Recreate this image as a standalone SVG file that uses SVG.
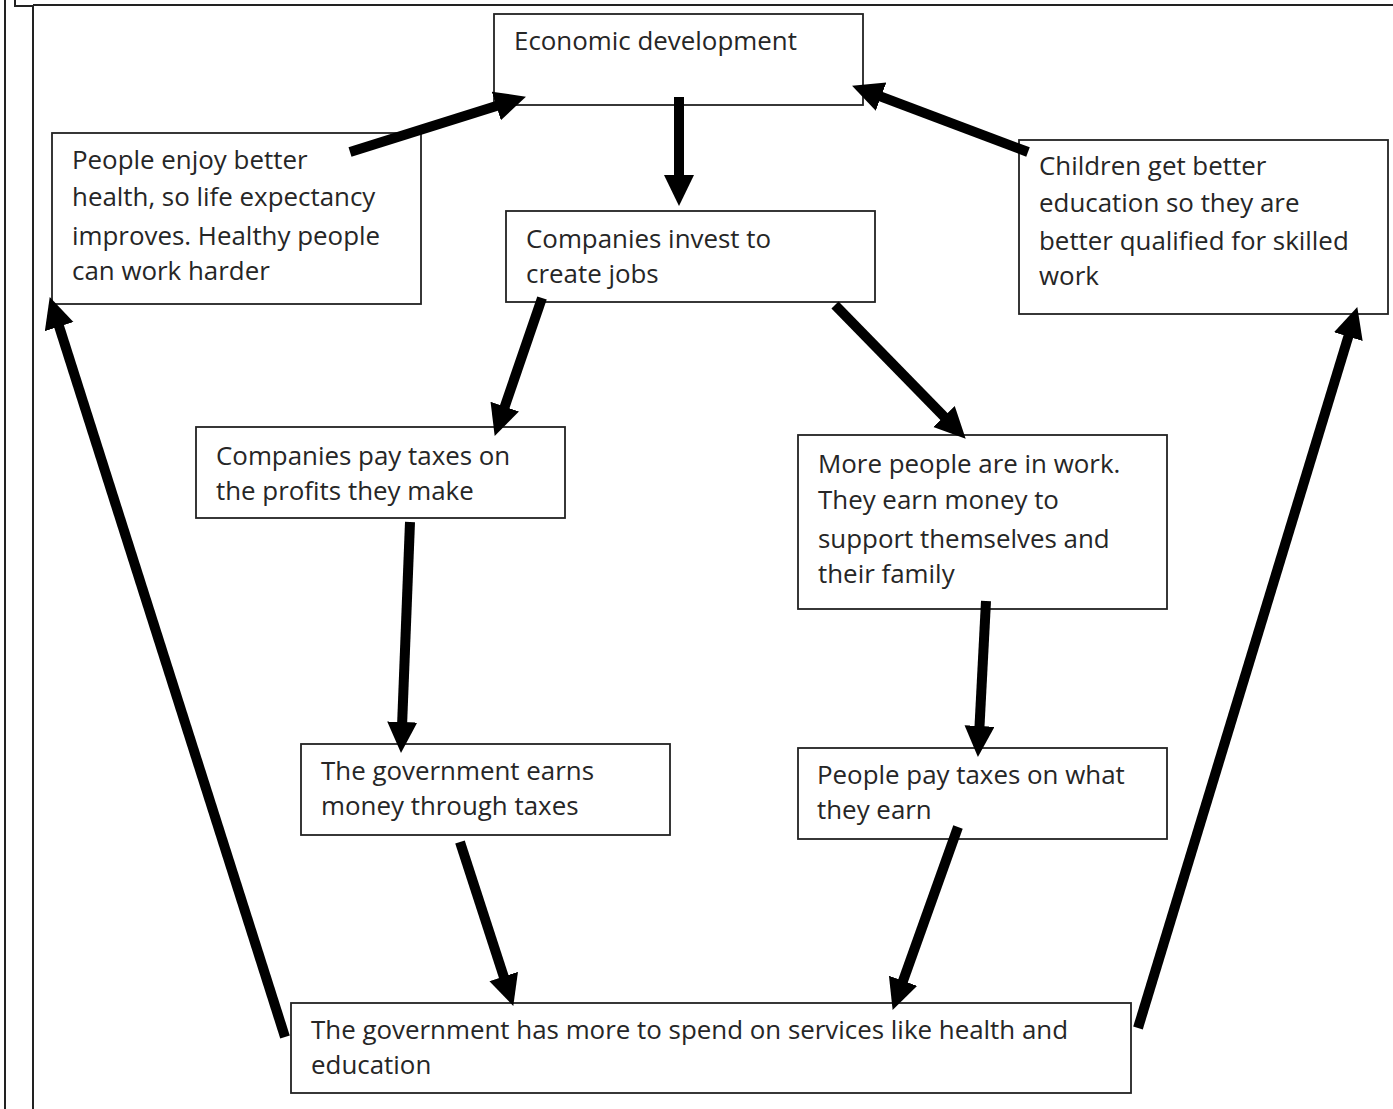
<svg xmlns="http://www.w3.org/2000/svg" width="1393" height="1109" viewBox="0 0 1393 1109">
<style>
.box{fill:#fff;stroke:#222;stroke-width:1.8}
.t{font-family:"Open Sans","Noto Sans",sans-serif;font-size:25.9px;fill:#262626}
.arr{stroke:#000;stroke-width:10;fill:none;marker-end:url(#ah)}
.frame{stroke:#222;stroke-width:2;fill:none}
</style>
<defs>
<marker id="ah" markerUnits="userSpaceOnUse" markerWidth="34" markerHeight="32" refX="10" refY="15" orient="auto" viewBox="0 0 34 32">
<path d="M0,0 L31,15 L0,30 z" fill="#000"/>
</marker>
</defs>
<rect width="1393" height="1109" fill="#fff"/>
<g id="frame">
<line class="frame" x1="5" y1="0" x2="5" y2="1109"/>
<polyline class="frame" points="15,0 15,6 33,6"/>
<line class="frame" x1="33" y1="5" x2="1393" y2="5"/>
<line class="frame" x1="33" y1="5" x2="33" y2="1109"/>
</g>
<g id="n-econ"><rect class="box" x="494" y="14" width="369" height="91"/><text class="t" x="514" y="50">Economic development</text></g>
<g id="n-health"><rect class="box" x="52" y="133" width="369" height="171"/><text class="t"><tspan x="72" y="169">People enjoy better</tspan><tspan x="72" y="206">health, so life expectancy</tspan><tspan x="72" y="245">improves. Healthy people</tspan><tspan x="72" y="280">can work harder</tspan></text></g>
<g id="n-edu"><rect class="box" x="1019" y="140" width="369" height="174"/><text class="t"><tspan x="1039" y="175">Children get better</tspan><tspan x="1039" y="212">education so they are</tspan><tspan x="1039" y="250">better qualified for skilled</tspan><tspan x="1039" y="285">work</tspan></text></g>
<g id="n-invest"><rect class="box" x="506" y="211" width="369" height="91"/><text class="t"><tspan x="526" y="248">Companies invest to</tspan><tspan x="526" y="283">create jobs</tspan></text></g>
<g id="n-comptax"><rect class="box" x="196" y="427" width="369" height="91"/><text class="t"><tspan x="216" y="465">Companies pay taxes on</tspan><tspan x="216" y="500">the profits they make</tspan></text></g>
<g id="n-work"><rect class="box" x="798" y="435" width="369" height="174"/><text class="t"><tspan x="818" y="473">More people are in work.</tspan><tspan x="818" y="509">They earn money to</tspan><tspan x="818" y="548">support themselves and</tspan><tspan x="818" y="583">their family</tspan></text></g>
<g id="n-govearn"><rect class="box" x="301" y="744" width="369" height="91"/><text class="t"><tspan x="321" y="780">The government earns</tspan><tspan x="321" y="815">money through taxes</tspan></text></g>
<g id="n-peopletax"><rect class="box" x="798" y="748" width="369" height="91"/><text class="t"><tspan x="817" y="784">People pay taxes on what</tspan><tspan x="817" y="819">they earn</tspan></text></g>
<g id="n-govspend"><rect class="box" x="291" y="1003" width="840" height="90"/><text class="t"><tspan x="311" y="1039">The government has more to spend on services like health and</tspan><tspan x="311" y="1074">education</tspan></text></g>
<g id="connectors">
<line class="arr" x1="350" y1="152" x2="505.9" y2="103"/>
<line class="arr" x1="1028" y1="152" x2="871.7" y2="93.1"/>
<line class="arr" x1="679" y1="97" x2="679" y2="185"/>
<line class="arr" x1="542" y1="298" x2="501.5" y2="416.1"/>
<line class="arr" x1="835" y1="305" x2="951" y2="423.7"/>
<line class="arr" x1="410" y1="522" x2="401.8" y2="732"/>
<line class="arr" x1="986" y1="601" x2="979" y2="736"/>
<line class="arr" x1="460" y1="842" x2="506.8" y2="986"/>
<line class="arr" x1="958" y1="827" x2="899.7" y2="990.2"/>
<line class="arr" x1="285" y1="1037" x2="56.1" y2="317.1"/>
<line class="arr" x1="1138" y1="1028" x2="1351.2" y2="327.1"/>
</g>
</svg>
